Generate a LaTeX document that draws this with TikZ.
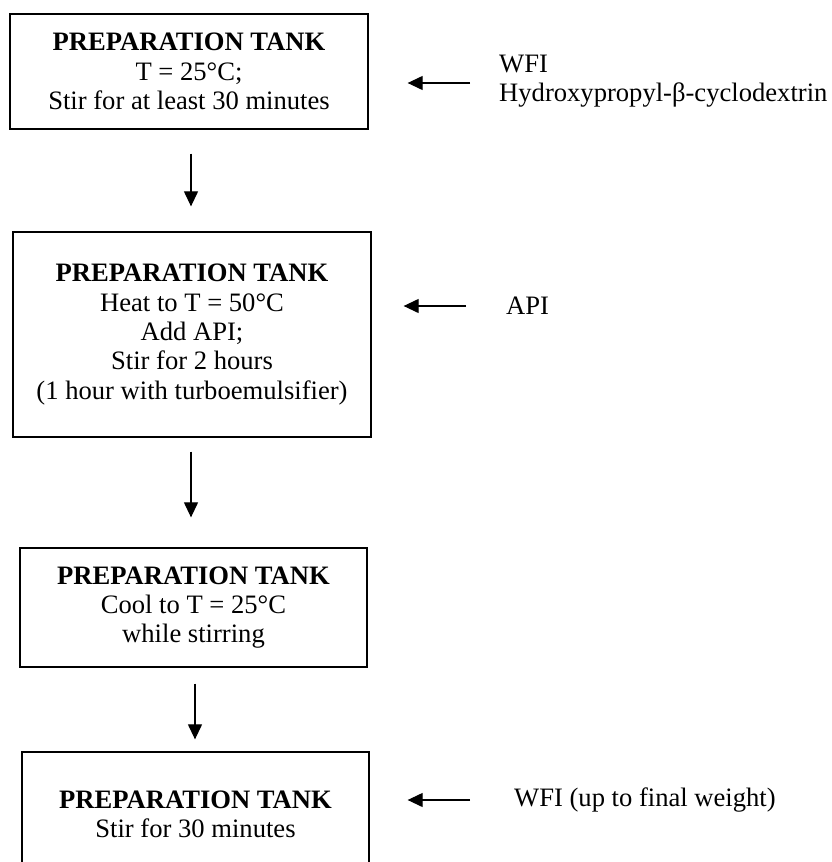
\documentclass[tikz,border=0pt]{standalone}
\usepackage{fontspec}
\setmainfont{Liberation Serif}
\usetikzlibrary{arrows.meta}
\begin{document}
\begin{tikzpicture}[x=1pt,y=-1pt,
  tank/.style={draw,line width=1.3pt,rectangle,align=center,inner sep=0pt,
    font=\fontsize{26.6}{29.3}\selectfont},
  feed/.style={anchor=west,align=left,inner sep=0pt,
    font=\fontsize{26.6}{29.3}\selectfont},
  flow/.style={line width=1.2pt,-{Triangle[length=15pt,width=14pt]}}]
\useasboundingbox (0,0) rectangle (832,862);
\clip (0,0) rectangle (832,862);

% process steps
\node[tank,minimum width=358pt,minimum height=115pt] (b1) at (189,71.5)
  {\textbf{PREPARATION TANK}\\T = 25°C;\\Stir for at least 30 minutes};
\node[tank,minimum width=358pt,minimum height=205pt] (b2) at (192,334.5)
  {\textbf{PREPARATION TANK}\\Heat to T = 50°C\\Add API;\\Stir for 2 hours\\(1 hour with turboemulsifier)};
\node[tank,minimum width=347pt,minimum height=119pt] (b3) at (193.5,607.5)
  {\textbf{PREPARATION TANK}\\Cool to T = 25°C\\while stirring\rule[-3pt]{0pt}{1pt}};
\node[tank,minimum width=347pt,minimum height=124pt] (b4) at (195.5,814)
  {\textbf{PREPARATION TANK}\\Stir for 30 minutes};

% materials fed into the tank
\node[feed] (in1) at (499,81) {WFI\\Hydroxypropyl-β-cyclodextrin};
\node[feed] (in2) at (506,306) {API};
\node[feed] (in3) at (514,800) {WFI (up to final weight)};

% main flow
\draw[flow,shorten <=24pt,shorten >=25pt] ([xshift=2pt]b1.south) -- ([xshift=2pt]b1.south |- b2.north);
\draw[flow,shorten <=14pt,shorten >=30pt] ([xshift=-1pt]b2.south) -- ([xshift=-1pt]b2.south |- b3.north);
\draw[flow,shorten <=16pt,shorten >=12pt] ([xshift=1.5pt]b3.south) -- ([xshift=1.5pt]b3.south |- b4.north);

% additions
\draw[flow,shorten <=29pt,shorten >=39pt] ([yshift=-2pt]in1.west) -- ([yshift=-2pt]in1.west -| b1.east);
\draw[flow,shorten <=40pt,shorten >=32pt] (in2.west) -- (in2.west -| b2.east);
\draw[flow,shorten <=44pt,shorten >=38pt] (in3.west) -- (in3.west -| b4.east);
\end{tikzpicture}
\end{document}
